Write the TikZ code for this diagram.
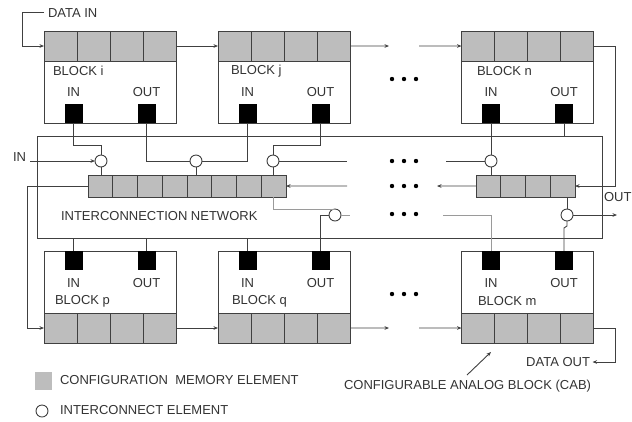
\documentclass[tikz,border=0pt]{standalone}
\usepackage{fontspec}
\setmainfont{Liberation Sans}
\usetikzlibrary{arrows.meta}
\definecolor{memgray}{HTML}{BDBDBD}
\definecolor{linec}{HTML}{404040}
\definecolor{lightc}{HTML}{9A9A9A}
\definecolor{txtc}{HTML}{333333}
\begin{document}
\begin{tikzpicture}[x=1bp,y=-1bp,
  every node/.style={inner sep=0pt, outer sep=0pt},
  line/.style={draw=linec, line width=0.9bp},
  lightline/.style={draw=lightc, line width=0.9bp},
  arr/.style={-{Stealth[length=4.5bp,width=3.6bp]}},
  blockbox/.style={draw=linec, line width=0.9bp, minimum width=132bp, minimum height=92bp, anchor=north west},
  memcell/.style={draw=linec, fill=memgray, line width=0.9bp, minimum width=33bp, minimum height=30bp, anchor=north west},
  barcell/.style={draw=linec, fill=memgray, line width=0.9bp, minimum width=24.75bp, minimum height=22bp, anchor=north west},
  port/.style={fill=black, minimum width=18bp, minimum height=19bp},
  icirc/.style={circle, draw=linec, fill=white, line width=0.9bp, minimum size=12bp},
  lbl/.style={text=txtc, font=\fontsize{13bp}{15bp}\selectfont, anchor=west},
  clbl/.style={text=txtc, font=\fontsize{13bp}{15bp}\selectfont},
]
\useasboundingbox (0,0) rectangle (632,421);

% interconnection network frame
\node[draw=linec, line width=0.9bp, minimum width=565bp, minimum height=102bp, anchor=north west] (net) at (37,136) {};

% top blocks
\foreach \bn/\x/\tx in {i/44/53, j/218/231, n/461.5/477} {
  \node[blockbox] (\bn) at (\x,31) {};
  \foreach \k in {1,...,4} { \node[memcell] (\bn M\k) at ({\x+33*(\k-1)},31) {}; }
  \node[port, anchor=south] (\bn IN) at ({\x+29.5},123) {};
  \node[port, anchor=south] (\bn OUT) at ({\x+102.5},123) {};
  \node[clbl] (\bn INl) at ({\x+29.5},92) {IN};
  \node[clbl] (\bn OUTl) at ({\x+102.5},92) {OUT};
  \node[lbl] (\bn T) at (\tx,71) {BLOCK \bn};
}
% bottom blocks
\foreach \bn/\x/\tx in {p/44/55, q/218/232, m/461.5/478} {
  \node[blockbox] (\bn) at (\x,251) {};
  \foreach \k in {1,...,4} { \node[memcell] (\bn M\k) at ({\x+33*(\k-1)},313) {}; }
  \node[port, anchor=north] (\bn IN) at ({\x+29.5},251) {};
  \node[port, anchor=north] (\bn OUT) at ({\x+102.5},251) {};
  \node[clbl] (\bn INl) at ({\x+29.5},283) {IN};
  \node[clbl] (\bn OUTl) at ({\x+102.5},283) {OUT};
  \node[lbl] (\bn T) at (\tx,301) {BLOCK \bn};
}

% memory bars in the network
\foreach \k in {1,...,8} { \node[barcell] (L\k) at ({88+24.75*(\k-1)},175) {}; }
\foreach \k in {1,...,4} { \node[barcell] (R\k) at ({476+24.75*(\k-1)},175) {}; }

% interconnect elements
\node[icirc] (c1) at (101,161) {};
\node[icirc] (c2) at (196,161) {};
\node[icirc] (c3) at (273,161) {};
\node[icirc] (c4) at (335,215) {};
\node[icirc] (c5) at (491,161) {};
\node[icirc] (c6) at (567,215) {};

% texts
\node[lbl] (datain) at (48,13) {DATA IN};
\node[lbl] (inlbl) at (13,157) {IN};
\node[lbl] (netlbl) at (61,216) {INTERCONNECTION NETWORK};
\node[lbl] (outlbl) at (604,197) {OUT};
\node[lbl, anchor=east] (dataout) at (590,362) {DATA OUT};
\node[lbl] (cab) at (344,386) {CONFIGURABLE ANALOG BLOCK (CAB)};
\node[fill=memgray, minimum width=17bp, minimum height=18bp] (legmem) at (43.5,381) {};
\node[lbl] (legmemt) at (60,380) {CONFIGURATION\ \ MEMORY ELEMENT};
\node[icirc] (legcirc) at (42,411) {};
\node[lbl] (legcirct) at (60,410) {INTERCONNECT ELEMENT};

% helper coordinates
\coordinate (yA) at (0,145);
\coordinate (yJ) at (0,228);
\coordinate (xL) at (27,0);
\coordinate (xD) at (22,0);
\coordinate (xR) at (615,0);
\coordinate (dinA) at (44,12);
\coordinate (inA) at (30,161);
\coordinate (outA) at (617,215);
\coordinate (g1a) at (347,161);
\coordinate (g2a) at (347,186);
\coordinate (g3a) at (350,215);
\coordinate (g1b) at (446,161);
\coordinate (g2b) at (437,186);
\coordinate (g3b) at (443,215);
\coordinate (gTa) at (389,46);
\coordinate (gTb) at (419,46);
\coordinate (gBa) at (389,328);
\coordinate (gBb) at (419,328);
\coordinate (cabA) at (467,375);
\coordinate (cabB) at (491,352);

% data chain
\draw[line, arr] (dinA) -| (xD |- iM1.west) -- (iM1.west);
\draw[line, arr] (iM4.east) -- (jM1.west);
\draw[line, arr] (jM4.east) -- (gTa);
\draw[line, arr] (gTb) -- (nM1.west);
\draw[line, arr] (nM4.east) -| (xR |- R4.east) -- (R4.east);
\draw[line, arr] (L1.west) -| (xL |- pM1.west) -- (pM1.west);
\draw[line, arr] (pM4.east) -- (qM1.west);
\draw[line, arr] (qM4.east) -- (gBa);
\draw[line, arr] (gBb) -- (mM1.west);
\draw[line, arr] (mM4.east) -| (xR |- dataout.east) -- ([xshift=2.5bp]dataout.east);
\draw[line, arr] (cabA) -- (cabB);

% block ports to network
\draw[line] (iIN.south) |- (yA -| c1) -- (c1.north);
\draw[line] (iOUT.south) |- (c2.west);
\draw[line] (jIN.south) |- (c2.east);
\draw[line] (jOUT.south) |- (yA -| c3) -- (c3.north);
\draw[line] (nIN.south) -- (c5.north);
\draw[line] (nOUT.south) -- (nOUT.south |- net.north);
\draw[line] (pIN.north) -- (pIN.north |- net.south);
\draw[line] (pOUT.north) -- (pOUT.north |- net.south);
\draw[line] (qIN.north) -- (qIN.north |- net.south);
\draw[line] (qOUT.north) |- (c4.west);
\draw[line] (c6.south) -- ++(0,5) -- (mOUT.north |- yJ) -- (mOUT.north);

% network internal wiring
\draw[line, arr] (inA) -- (c1.west);
\draw[line] (c1.south) -- (c1.south |- L1.north);
\draw[line] (c2.south) -- (c2.south |- L5.north);
\draw[line] (c3.south) -- (c3.south |- L8.north);
\draw[line] (c3.east) -- (g1a);
\draw[line, arr] (g2a) -- (L8.east);
\draw[lightline] (L8.south) |- (c4.north);
\draw[lightline] (c4.east) -- (g3a);
\draw[line] (g1b) -- (c5.west);
\draw[line] (c5.south) -- (c5.south |- R1.north);
\draw[line, arr] (R1.west) -- (g2b);
\draw[line] (c6.north |- R4.south) -- (c6.north);
\draw[line, arr] (c6.east) -- (outA);
\draw[lightline] (mIN.north) |- (g3b);

% continuation dots
\foreach \yy in {79,161,186,214,294} {
  \foreach \xx in {392,404,416} { \fill[black] (\xx,\yy) circle (2.2bp); }
}
\end{tikzpicture}
\end{document}
